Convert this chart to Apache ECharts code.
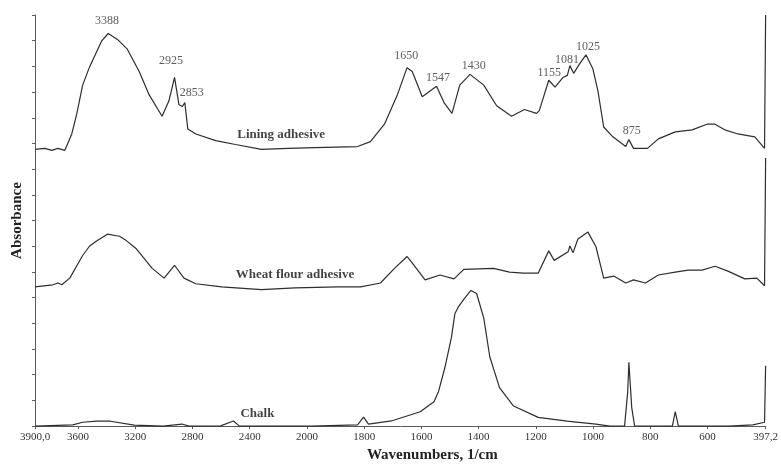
<!DOCTYPE html>
<html><head><meta charset="utf-8">
<script src="https://cdn.jsdelivr.net/npm/echarts@6/dist/echarts.min.js"></script>
<style>html,body{margin:0;padding:0;background:#fff}#c{width:781px;height:468px}</style>
</head><body><div id="c"></div>
<script>
// x-axis ticks (wavenumbers, 1/cm) and their printed labels
const tickWavenumbers = [3900, 3600, 3200, 2800, 2400, 2000, 1800, 1600, 1400, 1200, 1000, 800, 600, 397.2];
const tickLabels = ['3900,0', '3600', '3200', '2800', '2400', '2000', '1800', '1600', '1400', '1200', '1000', '800', '600', '397,2'];

// Lining adhesive (offset trace, absorbance units)
const liningWave = [3900,3831,3782,3740,3692,3643,3609,3567,3518,3470,3435,3388,3359,3324,3255,3172,3102,3012,2964,2925,2894,2870,2853,2832,2776,2637,2499,2318,2131,1972,1823,1778,1729,1684,1650,1632,1597,1547,1521,1493,1466,1430,1382,1337,1285,1240,1198,1188,1155,1133,1105,1090,1081,1068,1049,1025,1001,983,963,931,886,875,859,810,772,713,654,602,574,540,494,435,401,397.2];
const liningAbs = [10.77,10.81,10.73,10.81,10.73,11.37,12.13,13.27,13.99,14.56,14.98,15.28,15.17,15.05,14.67,13.80,12.89,12.06,12.66,13.57,12.51,12.44,12.59,11.56,11.37,11.11,10.96,10.77,10.81,10.84,10.88,11.07,11.75,12.89,13.95,13.80,12.82,13.23,12.59,12.17,13.27,13.69,13.27,12.47,12.06,12.32,12.17,12.28,13.46,13.19,13.57,13.65,14.03,13.73,14.07,14.45,13.91,13.04,11.64,11.26,10.88,11.15,10.81,10.81,11.18,11.45,11.53,11.75,11.75,11.53,11.37,11.26,10.81,16.0];

// Wheat flour adhesive
const wheatWave = [3900,3775,3740,3713,3657,3567,3518,3470,3394,3310,3262,3192,3081,2998,2925,2859,2776,2596,2318,2083,1892,1812,1743,1694,1650,1639,1587,1535,1486,1452,1348,1292,1244,1192,1155,1136,1087,1081,1070,1053,1018,990,963,928,886,859,817,772,713,668,619,574,529,470,428,408,401,397.2];
const wheatAbs = [5.42,5.50,5.57,5.50,5.76,6.64,7.01,7.20,7.47,7.39,7.22,6.90,6.14,5.76,6.26,5.76,5.54,5.42,5.31,5.38,5.42,5.42,5.57,6.14,6.60,6.45,5.69,5.88,5.73,6.10,6.14,5.99,5.95,5.95,6.82,6.45,6.79,7.01,6.75,7.28,7.55,6.98,5.76,5.84,5.57,5.69,5.57,5.88,5.99,6.07,6.07,6.22,6.03,5.73,5.76,5.54,5.46,10.43];

// Chalk
const chalkWave = [3900,3636,3567,3470,3373,3206,3005,2873,2825,2603,2513,2471,1986,1823,1802,1785,1705,1604,1556,1540,1518,1495,1483,1472,1452,1427,1407,1382,1361,1327,1278,1192,1091,990,942,890,879,875,865,855,723,713,702,526,442,401,397.2];
const chalkAbs = [0,0.05,0.15,0.19,0.19,0.04,0,0.08,0,0.01,0.20,0,0,0.05,0.35,0.08,0.20,0.56,0.95,1.35,2.27,3.45,4.37,4.62,4.93,5.28,5.16,4.20,2.70,1.50,0.78,0.34,0.19,0.08,0,0.01,1.34,2.48,0.72,0.01,0,0.56,0,0,0.05,0.15,2.35];

// Peak annotations: text, and anchor (wavenumber, absorbance)
const peakTexts = ['3388','2925','2853','1650','1547','1430','1155','1081','1025','875'];
const peakAnchorWave = [3397,2950,2804,1653,1542,1417,1153,1091,1018,865];
const peakAnchorAbs = [15.77,14.22,12.97,14.41,13.54,14.03,13.76,14.26,14.75,11.49];

// Trace name annotations
const traceNames = ['Lining adhesive','Wheat flour adhesive','Chalk'];
const traceNameWave = [2180,2083,2346];
const traceNameAbs = [11.34,5.88,0.49];

// FTIR axis: scale halves above 2000 1/cm
const toAxis = w => (w >= 2000 ? -(w - 2000) / 2 : 2000 - w);
const pairs = (ws, vs) => ws.map((w, i) => [toAxis(w), vs[i]]);
const tickAxisVals = tickWavenumbers.map(toAxis);

const traceColor = '#2e2e2e';
const axisColor = '#5a5a5a';
const serif = '"Liberation Serif", "Times New Roman", serif';

const lineSeries = (name, ws, vs) => ({
  type: 'line', name, data: pairs(ws, vs), showSymbol: false, symbol: 'none',
  lineStyle: { color: traceColor, width: 1.2 }, silent: true, clip: false
});

const chart = echarts.init(document.getElementById('c'));
chart.setOption({
  animation: false,
  backgroundColor: '#fff',
  grid: { left: 35, right: 10, top: 15, bottom: 31 },
  xAxis: {
    type: 'value', min: toAxis(3900), max: toAxis(397.2),
    axisLine: { onZero: false, lineStyle: { color: axisColor, width: 1 } },
    axisTick: { customValues: tickAxisVals, length: 3, lineStyle: { color: axisColor } },
    axisLabel: {
      customValues: tickAxisVals, margin: 6, fontSize: 11, fontFamily: serif, color: '#333',
      formatter: v => { const i = tickAxisVals.findIndex(t => Math.abs(t - v) < 1e-6); return i >= 0 ? tickLabels[i] : ''; }
    },
    splitLine: { show: false },
    name: 'Wavenumbers, 1/cm', nameLocation: 'middle', nameGap: 15,
    nameTextStyle: { fontFamily: serif, fontWeight: 'bold', fontSize: 15, color: '#222', padding: [0, 0, 0, 64] }
  },
  yAxis: {
    type: 'value', min: 0, max: 16, interval: 1,
    axisLine: { show: true, onZero: false, lineStyle: { color: axisColor, width: 1 } },
    axisTick: { show: true, length: 3, lineStyle: { color: axisColor } },
    axisLabel: { show: false },
    splitLine: { show: false },
    name: 'Absorbance', nameLocation: 'middle', nameRotate: 90, nameGap: 10,
    nameTextStyle: { fontFamily: serif, fontWeight: 'bold', fontSize: 15, color: '#222' }
  },
  series: [
    lineSeries('Lining adhesive', liningWave, liningAbs),
    lineSeries('Wheat flour adhesive', wheatWave, wheatAbs),
    lineSeries('Chalk', chalkWave, chalkAbs),
    {
      type: 'scatter', symbolSize: 0, silent: true,
      data: peakTexts.map((t, i) => [toAxis(peakAnchorWave[i]), peakAnchorAbs[i], t]),
      label: { show: true, position: 'inside', formatter: p => p.value[2], fontFamily: serif, fontSize: 12, color: '#333' }
    },
    {
      type: 'scatter', symbolSize: 0, silent: true,
      data: traceNames.map((t, i) => [toAxis(traceNameWave[i]), traceNameAbs[i], t]),
      label: { show: true, position: 'inside', formatter: p => p.value[2], fontFamily: serif, fontWeight: 'bold', fontSize: 13, color: '#111' }
    }
  ]
});
</script>
</body></html>
